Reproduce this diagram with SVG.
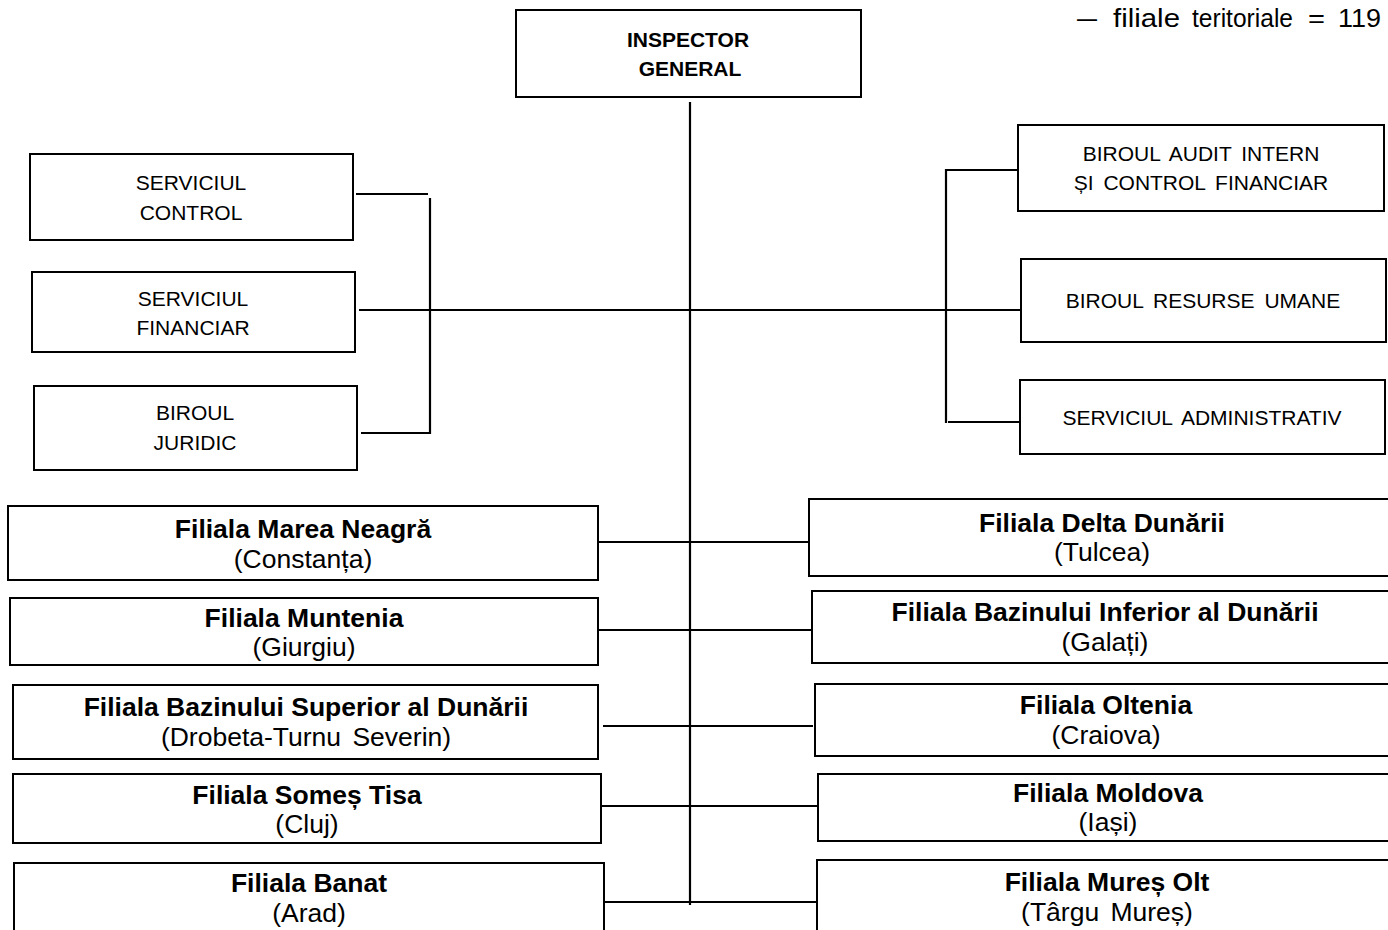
<svg xmlns="http://www.w3.org/2000/svg" width="1388" height="930" viewBox="0 0 1388 930">
<style>
.box{fill:#fff;stroke:#000;stroke-width:2}
.ln{stroke:#000;stroke-width:2.2;fill:none}
.t{font-family:"Liberation Sans",Arial,sans-serif;font-size:21px;fill:#000;text-anchor:middle;word-spacing:4px}
.tb{font-family:"Liberation Sans",Arial,sans-serif;font-size:21px;font-weight:bold;fill:#000;text-anchor:middle}
.ft{font-family:"Liberation Sans",Arial,sans-serif;font-size:26.5px;font-weight:bold;fill:#000;text-anchor:middle}
.fs{font-family:"Liberation Sans",Arial,sans-serif;font-size:26.5px;fill:#000;text-anchor:middle;word-spacing:4px}
.note{font-family:"Liberation Sans",Arial,sans-serif;font-size:25px;fill:#000}
</style>
<rect width="1388" height="930" fill="#fff"/>
<g id="note">
<text class="note" x="1077" y="27" textLength="20" lengthAdjust="spacingAndGlyphs">—</text>
<text class="note" x="1113" y="27" textLength="67" lengthAdjust="spacingAndGlyphs">filiale</text>
<text class="note" x="1192" y="27" textLength="101" lengthAdjust="spacingAndGlyphs">teritoriale</text>
<text class="note" x="1308" y="27" textLength="17" lengthAdjust="spacingAndGlyphs">=</text>
<text class="note" x="1338" y="27" textLength="43" lengthAdjust="spacingAndGlyphs">119</text>
</g>
<g id="connectors">
<line class="ln" x1="690" y1="102" x2="690" y2="905"/>
<line class="ln" x1="356" y1="194" x2="428" y2="194"/>
<line class="ln" x1="430" y1="198" x2="430" y2="434"/>
<line class="ln" x1="361" y1="433" x2="431" y2="433"/>
<line class="ln" x1="359" y1="310" x2="1023" y2="310"/>
<line class="ln" x1="946" y1="169" x2="946" y2="423"/>
<line class="ln" x1="945" y1="170" x2="1017" y2="170"/>
<line class="ln" x1="948" y1="422" x2="1020" y2="422"/>
<line class="ln" x1="598" y1="542" x2="809" y2="542"/>
<line class="ln" x1="598" y1="630" x2="812" y2="630"/>
<line class="ln" x1="603" y1="726" x2="813" y2="726"/>
<line class="ln" x1="601" y1="806" x2="817" y2="806"/>
<line class="ln" x1="603" y1="902" x2="817" y2="902"/>
</g>
<g id="inspector"><rect class="box" x="516" y="10" width="345" height="87"/><text class="tb" x="688" y="47">INSPECTOR</text><text class="tb" x="690" y="76">GENERAL</text></g>
<g id="serv-control"><rect class="box" x="30" y="154" width="323" height="86"/><text class="t" x="191" y="190">SERVICIUL</text><text class="t" x="191" y="220">CONTROL</text></g>
<g id="serv-financiar"><rect class="box" x="32" y="272" width="323" height="80"/><text class="t" x="193" y="306">SERVICIUL</text><text class="t" x="193" y="335">FINANCIAR</text></g>
<g id="birou-juridic"><rect class="box" x="34" y="386" width="323" height="84"/><text class="t" x="195" y="420">BIROUL</text><text class="t" x="195" y="450">JURIDIC</text></g>
<g id="birou-audit"><rect class="box" x="1018" y="125" width="366" height="86"/><text class="t" x="1201" y="161">BIROUL AUDIT INTERN</text><text class="t" x="1201" y="190">ȘI CONTROL FINANCIAR</text></g>
<g id="birou-ru"><rect class="box" x="1021" y="259" width="365" height="83"/><text class="t" x="1203" y="308">BIROUL RESURSE UMANE</text></g>
<g id="serv-admin"><rect class="box" x="1020" y="380" width="365" height="74"/><text class="t" x="1202" y="425">SERVICIUL ADMINISTRATIV</text></g>
<g id="f-marea-neagra"><rect class="box" x="8" y="506" width="590" height="74"/><text class="ft" x="303" y="538">Filiala Marea Neagră</text><text class="fs" x="303" y="568">(Constanța)</text></g>
<g id="f-muntenia"><rect class="box" x="10" y="598" width="588" height="67"/><text class="ft" x="304" y="627">Filiala Muntenia</text><text class="fs" x="304" y="656">(Giurgiu)</text></g>
<g id="f-bsd"><rect class="box" x="13" y="685" width="585" height="74"/><text class="ft" x="306" y="716">Filiala Bazinului Superior al Dunării</text><text class="fs" x="306" y="746">(Drobeta-Turnu Severin)</text></g>
<g id="f-somes-tisa"><rect class="box" x="13" y="774" width="588" height="69"/><text class="ft" x="307" y="804">Filiala Someș Tisa</text><text class="fs" x="307" y="833">(Cluj)</text></g>
<g id="f-banat"><rect class="box" x="14" y="863" width="590" height="80"/><text class="ft" x="309" y="892">Filiala Banat</text><text class="fs" x="309" y="922">(Arad)</text></g>
<g id="f-delta"><rect class="box" x="809" y="499" width="600" height="77"/><text class="ft" x="1102" y="532">Filiala Delta Dunării</text><text class="fs" x="1102" y="561">(Tulcea)</text></g>
<g id="f-bid"><rect class="box" x="812" y="591" width="600" height="72"/><text class="ft" x="1105" y="621">Filiala Bazinului Inferior al Dunării</text><text class="fs" x="1105" y="651">(Galați)</text></g>
<g id="f-oltenia"><rect class="box" x="815" y="684" width="600" height="72"/><text class="ft" x="1106" y="714">Filiala Oltenia</text><text class="fs" x="1106" y="744">(Craiova)</text></g>
<g id="f-moldova"><rect class="box" x="818" y="774" width="600" height="67"/><text class="ft" x="1108" y="802">Filiala Moldova</text><text class="fs" x="1108" y="831">(Iași)</text></g>
<g id="f-mures-olt"><rect class="box" x="817" y="860" width="600" height="80"/><text class="ft" x="1107" y="891">Filiala Mureș Olt</text><text class="fs" x="1107" y="921">(Târgu Mureș)</text></g>
</svg>
